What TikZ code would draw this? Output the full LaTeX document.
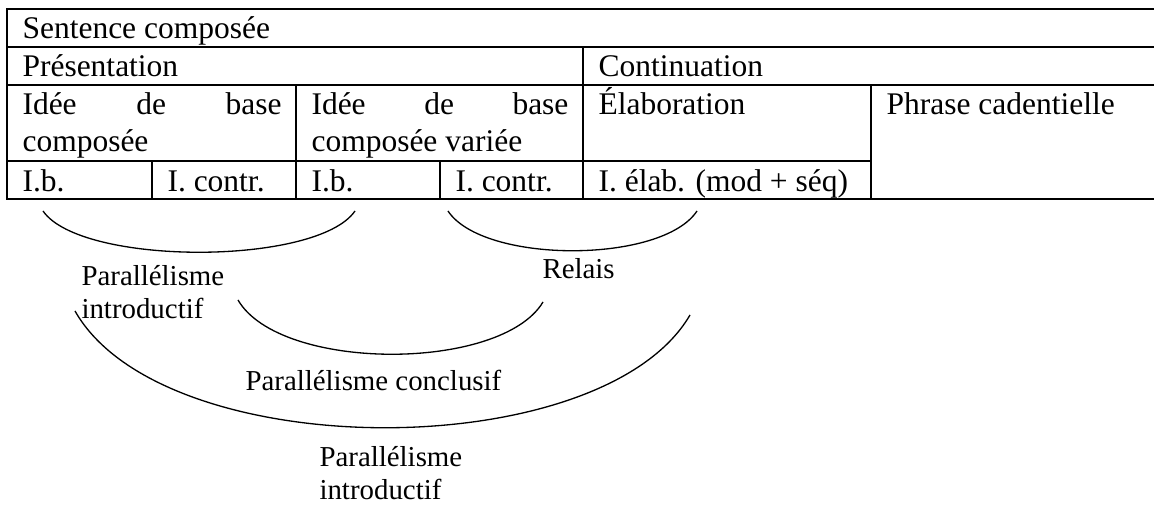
\documentclass[tikz,border=0pt]{standalone}
\usepackage{fontspec}
\setmainfont{Liberation Serif}

\begin{document}
\begin{tikzpicture}[x=0.381pt,y=-0.381pt,
    cell/.style={anchor=base west,inner sep=0pt,font=\fontsize{12pt}{13.8pt}\selectfont},
    lbl/.style={anchor=base west,inner sep=0pt,align=left,font=\fontsize{11pt}{12.6pt}\selectfont},
    tabline/.style={line width=1pt},
    bow/.style={line width=0.5pt}]
    \useasboundingbox (0,0) rectangle (1154,508);

    \draw [tabline] (1154,9) -- (7,9) -- (7,199) -- (1154,199);
    \draw [tabline] (7,47) -- (1154,47);
    \draw [tabline] (7,85) -- (1154,85);
    \draw [tabline] (7,161) -- (871,161);
    \draw [tabline] (583,47) -- (583,199);
    \draw [tabline] (296,85) -- (296,199);
    \draw [tabline] (871,85) -- (871,199);
    \draw [tabline] (152,161) -- (152,199);
    \draw [tabline] (440,161) -- (440,199);

    \node[cell] (sent) at (22,39) {Sentence composée};
    \node[cell] (pres) at (22,77) {Présentation};
    \node[cell] (cont) at (598,77) {Continuation};
    \node[cell,text width=98.7pt,align=flush left] (idc) at (22,115)
        {Idée\hfill de\hfill base\\composée};
    \node[cell,text width=97.9pt,align=flush left] (idcv) at (311,115)
        {Idée\hfill de\hfill base\\composée variée};
    \node[cell] (elab) at (598,115) {Élaboration};
    \node[cell] (cad) at (886,115) {Phrase cadentielle};
    \node[cell] (ib1) at (22,192) {I.b.};
    \node[cell] (ic1) at (167,192) {I. contr.};
    \node[cell] (ib2) at (311,192) {I.b.};
    \node[cell] (ic2) at (455,192) {I. contr.};
    \node[cell] (iel) at (598,192) {I. élab. (mod + séq)};

    \coordinate (intro1L) at (43,211);
    \coordinate (intro1R) at (355,211);
    \coordinate (relL) at (448,211);
    \coordinate (relR) at (697,211);
    \coordinate (conL) at (238,300);
    \coordinate (conR) at (543,302);
    \coordinate (intro2L) at (75,311);
    \coordinate (intro2R) at (690,315);

    \draw [bow] (intro1L) .. controls +(38,55) and +(-38,55) .. (intro1R);
    \draw [bow] (relL) .. controls +(35,53) and +(-35,53) .. (relR);
    \draw [bow] (conL) .. controls +(42,72) and +(-42,70) .. (conR);
    \draw [bow] (intro2L) .. controls +(88,155) and +(-88,151) .. (intro2R);

    \node[lbl] (pintro) at (81,319) {Parallélisme\\introductif};
    \node[lbl] (relais) at (542,279) {Relais};
    \node[lbl] (pconcl) at (245,391) {Parallélisme conclusif};
    \node[lbl] (pintrob) at (319,500) {Parallélisme\\introductif};
\end{tikzpicture}
\end{document}
